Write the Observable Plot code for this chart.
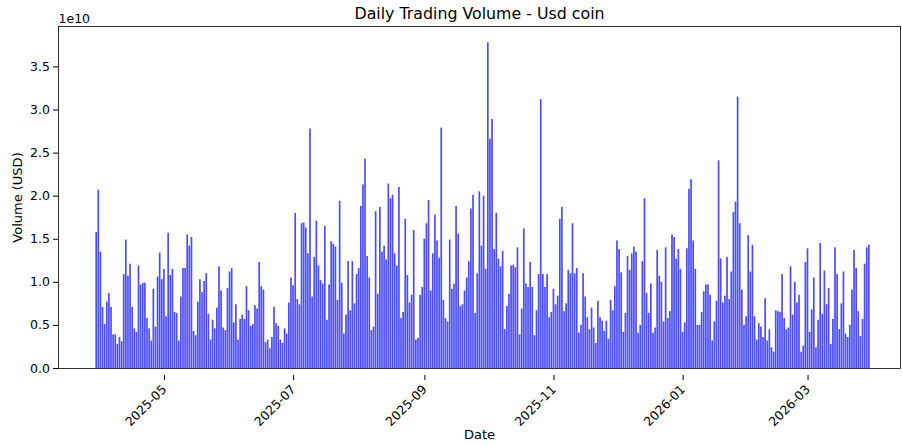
<!DOCTYPE html>
<html><head><meta charset="utf-8">
<script src="https://cdn.jsdelivr.net/npm/d3@7"></script>
<script src="https://cdn.jsdelivr.net/npm/@observablehq/plot@0.6"></script>
<style>html,body{margin:0;padding:0;background:#fff}#chart svg{display:block}</style>
</head><body><div id="chart"></div>
<script>
const title = "Daily Trading Volume - Usd coin";
const xLabel = "Date";
const yLabel = "Volume (USD)";
const yExponentLabel = "1e10";
const firstDate = "2025-04-07";
// daily volume, in units of 1e10 USD
const volumeE10 = [
1.58,2.07,1.35,0.71,0.51,0.77,0.87,0.71,0.39,0.39,0.28,0.36,0.31,1.09,1.49,1.07,1.21,0.71,0.46,0.42,1.19,0.97,0.99,0.99,0.58,0.46,0.32,0.92,0.48,1.06,1.34,1.03,1.15,0.60,1.57,1.08,1.15,0.65,0.64,0.32,0.83,1.16,1.16,1.55,
1.42,1.52,0.43,0.38,0.77,1.03,0.88,1.01,1.10,0.63,0.33,0.56,0.46,0.70,1.18,0.90,0.47,0.44,0.93,1.12,1.16,0.53,0.74,0.33,0.57,0.62,0.57,0.95,0.67,0.49,0.51,0.73,0.69,1.23,0.95,0.91,0.30,0.33,0.23,0.36,0.71,0.52,0.49,0.33,0.29,0.46,0.40,
0.76,1.05,0.96,1.80,0.80,0.74,1.68,1.69,1.63,1.33,2.78,0.83,1.29,1.71,1.19,1.02,0.98,1.65,0.56,0.97,1.47,1.44,1.41,0.79,1.94,0.99,0.40,0.62,1.24,0.67,1.24,0.75,1.09,1.16,1.88,2.13,2.43,1.30,1.05,0.44,0.48,1.82,0.86,1.87,1.35,1.42,1.26,2.14,
1.97,2.01,1.33,1.19,2.10,0.58,0.65,1.73,1.08,0.76,0.85,1.60,0.33,0.35,0.85,0.94,1.50,1.68,1.95,0.90,1.33,1.78,1.48,1.28,2.79,0.79,0.58,0.54,1.49,0.92,0.98,1.88,1.56,0.72,0.74,0.90,1.05,1.24,1.85,2.01,0.64,1.10,2.05,1.42,2.00,1.15,3.78,
2.66,2.89,1.38,1.80,1.27,1.18,1.36,0.45,0.72,0.86,1.19,1.20,1.17,1.40,0.39,0.69,1.62,0.98,0.94,1.23,0.94,0.38,0.67,1.09,3.12,1.09,0.94,1.09,0.59,0.65,0.92,0.74,0.84,1.73,1.87,0.66,0.75,1.14,1.10,1.68,1.10,1.16,0.41,0.50,1.10,0.83,0.59,
0.45,0.70,0.47,0.29,0.78,0.59,0.55,0.43,0.55,0.34,0.79,0.67,0.95,1.48,1.38,1.11,0.42,0.64,1.30,1.14,1.33,1.41,1.35,0.41,0.50,1.24,1.97,0.87,0.64,0.98,0.41,0.47,1.37,1.07,1.00,0.54,1.40,0.58,0.66,1.55,1.52,1.27,1.38,1.15,0.42,0.53,1.39,
2.08,2.19,1.48,1.15,0.50,0.50,0.65,0.89,0.97,0.97,0.85,0.32,0.54,0.78,2.41,1.27,0.76,0.84,1.29,0.80,1.12,1.81,1.93,3.15,1.68,0.91,0.50,0.60,1.54,1.12,1.43,0.60,0.33,0.52,0.48,0.36,0.81,0.32,0.45,0.24,0.19,0.67,0.66,0.65,1.09,
0.58,0.45,0.47,1.18,0.62,1.00,0.76,0.85,0.19,0.26,1.23,1.39,0.42,0.68,1.05,0.24,0.56,1.45,0.63,1.13,0.74,0.93,0.28,0.57,1.40,1.09,0.45,0.75,1.12,0.40,0.36,0.50,0.91,1.37,1.16,0.66,0.37,0.57,1.21,1.40,1.43
];
const xTickDates = ["2025-05-01","2025-07-01","2025-09-01","2025-11-01","2026-01-01","2026-03-01"];
const yTicks = [0, 0.5, 1.0, 1.5, 2.0, 2.5, 3.0, 3.5];

const DAY = 864e5;
const start = new Date(firstDate + "T00:00:00Z");
const rows = volumeE10.map((v, i) => {
  const d = new Date(+start + i * DAY);
  return {date: d, x1: new Date(+d - 0.4 * DAY), x2: new Date(+d + 0.4 * DAY), v};
});

const chart = Plot.plot({
  width: 902, height: 445,
  marginLeft: 58, marginRight: 2, marginTop: 26, marginBottom: 77,
  style: {fontFamily: "DejaVu Sans", fontSize: "12.5px", background: "#fff", color: "#000"},
  x: {type: "utc", domain: [new Date("2025-03-19T23:00:00Z"), new Date("2026-04-21T17:00:00Z")]},
  y: {domain: [0, 3.969]},
  marks: [
    Plot.rectY(rows, {x1: "x1", x2: "x2", y: "v", fill: "blue", fillOpacity: 0.7}),
    Plot.frame({stroke: "#000", strokeWidth: 0.8}),
    Plot.axisY({ticks: yTicks, tickFormat: d3.format(".1f"), tickSize: 5, tickPadding: 3.5, label: null}),
    Plot.axisX({ticks: xTickDates.map(s => new Date(s + "T00:00:00Z")), tickFormat: d3.utcFormat("%Y-%m"),
      tickSize: 5, tickRotate: -45, textAnchor: "end", lineAnchor: "middle", dx: 17, dy: 7, label: null}),
    Plot.text([title], {frameAnchor: "top", dy: -13, lineAnchor: "middle", fontSize: 15.8}),
    Plot.text([yExponentLabel], {frameAnchor: "top-left", dy: -8, textAnchor: "start", lineAnchor: "middle"}),
    Plot.text([yLabel], {frameAnchor: "left", dx: -40.5, rotate: -90, textAnchor: "middle", lineAnchor: "middle", fontSize: 13}),
    Plot.text([xLabel], {frameAnchor: "bottom", dy: 66.5, textAnchor: "middle", lineAnchor: "middle", fontSize: 13})
  ]
});
document.getElementById("chart").append(chart);
</script></body></html>
